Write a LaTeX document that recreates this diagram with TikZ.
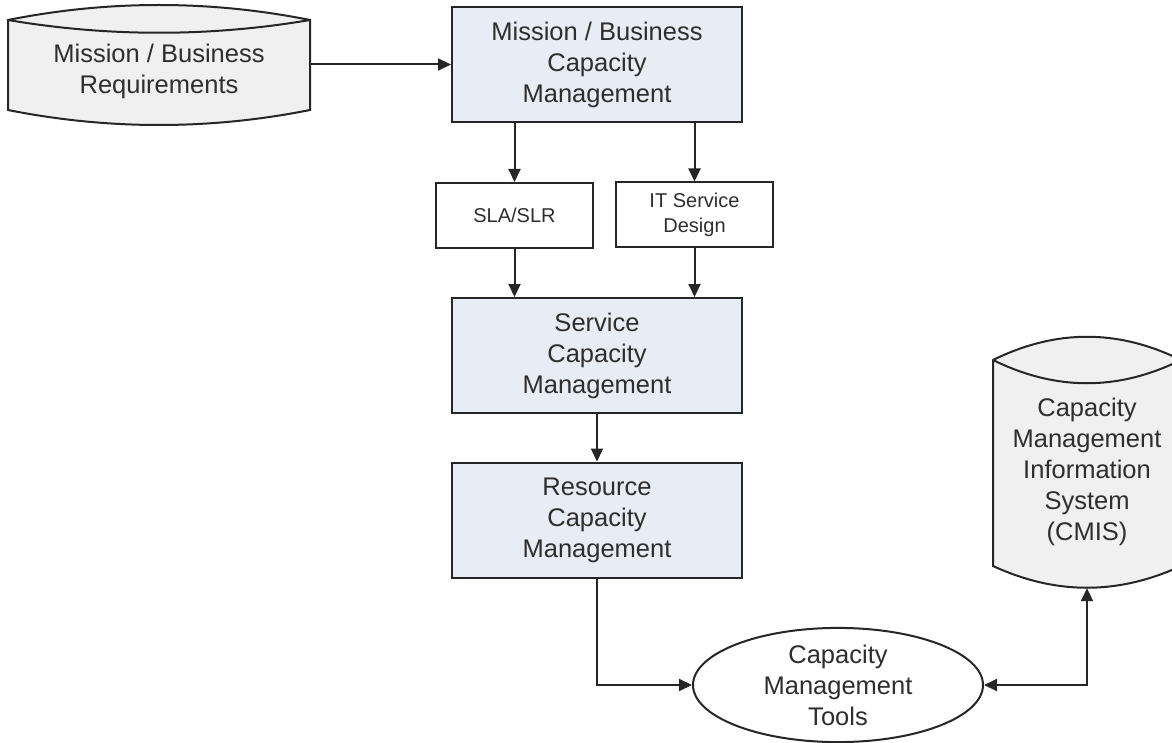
\documentclass[tikz,border=0pt]{standalone}
\usepackage{fontspec}
\setmainfont{Liberation Sans}
\usetikzlibrary{arrows.meta,shapes.geometric}
\definecolor{ink}{HTML}{262626}
\definecolor{txt}{HTML}{2E2E2E}
\definecolor{boxfill}{HTML}{E8ECF4}
\definecolor{cylfill}{HTML}{F0F0F0}
\begin{document}
\begin{tikzpicture}[x=1pt,y=-1pt,
  every node/.style={text=txt, font=\fontsize{25.5}{31}\selectfont, align=center, inner sep=0pt},
  bigbox/.style={draw=ink, line width=2pt, fill=boxfill, minimum width=290pt, minimum height=115pt},
  smallbox/.style={draw=ink, line width=2pt, fill=white, minimum width=157pt, minimum height=65pt, font=\fontsize{20}{25}\selectfont},
  toolshape/.style={ellipse, draw=ink, line width=2pt, fill=white, minimum width=290pt, minimum height=114pt},
  cylbody/.style={draw=ink, line width=2pt, fill=cylfill},
  cylrim/.style={draw=ink, line width=2pt},
  conn/.style={draw=ink, line width=2pt, -{Triangle[length=13pt,width=12pt]}},
  bothconn/.style={draw=ink, line width=2pt, {Triangle[length=13pt,width=12pt]}-{Triangle[length=13pt,width=12pt]}}
]
\useasboundingbox (0,0) rectangle (1172,743);
\clip (0,0) rectangle (1172,743);

% cylinder: Mission / Business Requirements
\path[cylbody] (8,20) .. controls (108,0) and (210,0) .. (310,20) -- (310,110) .. controls (210,130) and (108,130) .. (8,110) -- cycle;

% cylinder: CMIS
\path[cylbody] (993,360) .. controls (1056,329) and (1118,329) .. (1181,360) -- (1181,566) .. controls (1118,595) and (1056,595) .. (993,566) -- cycle;

\node[minimum width=302pt, minimum height=90pt] (req) at (159,71) {Mission / Business\\Requirements};
\node[minimum width=188pt, minimum height=228pt] (cmis) at (1087,472) {Capacity\\Management\\Information\\System\\(CMIS)};

% rims of the cylinders (front arc of the top ellipse)
\draw[cylrim] (8,20) .. controls (108,37) and (210,37) .. (310,20);
\draw[cylrim] (993,360) .. controls (1056,391) and (1118,391) .. (1181,360);

\node[bigbox] (mbcm) at (597,64.5) {Mission / Business\\Capacity\\Management};
\node[smallbox] (sla) at (514.5,215.5) {SLA/SLR};
\node[smallbox] (itsd) at (694.5,215) {IT Service\\Design};
\node[bigbox] (scm) at (597,355.5) {Service\\Capacity\\Management};
\node[bigbox] (rcm) at (597,520) {Resource\\Capacity\\Management};
\node[toolshape] (tools) at (838,685) {Capacity\\Management\\Tools};

\draw[conn] (req.east |- mbcm.west) -- (mbcm.west);
\draw[conn] (sla.north |- mbcm.south) -- (sla.north);
\draw[conn] (itsd.north |- mbcm.south) -- (itsd.north);
\draw[conn] (sla.south) -- (sla.south |- scm.north);
\draw[conn] (itsd.south) -- (itsd.south |- scm.north);
\draw[conn] (scm.south) -- (rcm.north);
\draw[conn] (rcm.south) |- (tools.west);
\draw[bothconn] (tools.east) -| ([yshift=-2pt]cmis.south);
\end{tikzpicture}
\end{document}
